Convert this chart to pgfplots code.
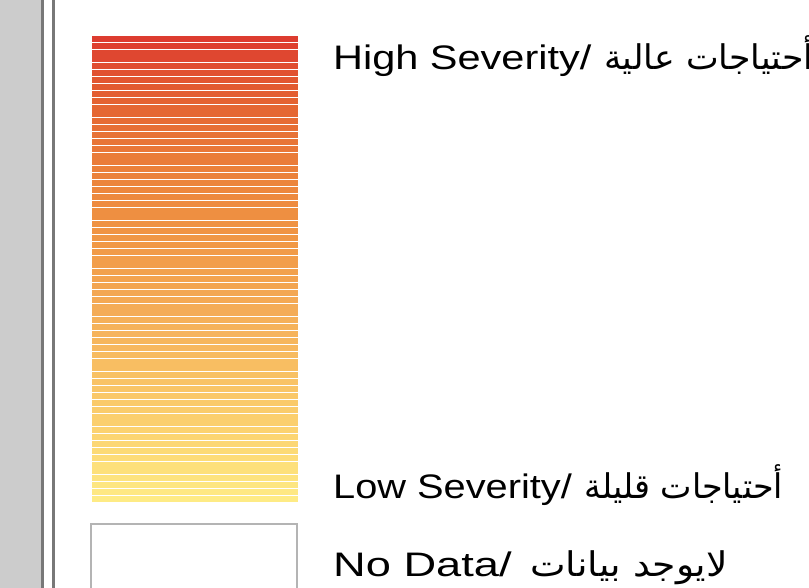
\documentclass[border=0pt]{standalone}
\usepackage{fontspec}
\setmainfont{Liberation Sans}
\newfontfamily\arabicfont[Script=Arabic]{DejaVu Sans}
\usepackage{graphicx}
\usepackage{pgfplots}
\pgfplotsset{compat=1.18}
\TeXXeTstate=1
\definecolor{panelgray}{RGB}{204,204,204}
\definecolor{linegray}{RGB}{120,120,120}
\definecolor{boxgray}{RGB}{180,180,180}
\begin{document}
\begin{tikzpicture}[x=1pt,y=1pt]
\path[use as bounding box] (0,0) rectangle (809,588);
\clip (0,0) rectangle (809,588);
\begin{axis}[at={(0,0)}, anchor=south west,
  width=809pt, height=588pt, scale only axis,
  xmin=0, xmax=809, ymin=0, ymax=588, y dir=reverse,
  hide axis, clip=false,
  colormap={sev}{rgb255=(221,58,47) rgb255=(228,100,50) rgb255=(235,128,58) rgb255=(240,150,68) rgb255=(244,170,85) rgb255=(248,191,99) rgb255=(252,212,113) rgb255=(254,236,134)},
  point meta min=36, point meta max=502]
% left panel decorations
\fill[panelgray] (axis cs:0,0) rectangle (axis cs:41,588);
\fill[linegray] (axis cs:41,0) rectangle (axis cs:44,588);
\fill[linegray] (axis cs:52,0) rectangle (axis cs:55,588);
% gradient stripes (one rectangle per stripe: x0 y0 / x1 y0 / x1 y1 / x0 y1, meta = stripe centre)
\addplot[patch, patch type=rectangle, shader=flat, point meta=explicit] table[meta=c] {
x y c
92 36.4 38.95
297.6 36.4 38.95
297.6 41.9 38.95
92 41.9 38.95
92 42.7 45.8
297.6 42.7 45.8
297.6 48.9 45.8
92 48.9 45.8
92 49.7 56.0
297.6 49.7 56.0
297.6 62.3 56.0
92 62.3 56.0
92 63.1 66.0
297.6 63.1 66.0
297.6 68.9 66.0
92 68.9 66.0
92 69.7 72.8
297.6 69.7 72.8
297.6 75.9 72.8
92 75.9 72.8
92 76.7 79.8
297.6 76.7 79.8
297.6 82.9 79.8
92 82.9 79.8
92 83.7 86.8
297.6 83.7 86.8
297.6 89.9 86.8
92 89.9 86.8
92 90.7 93.8
297.6 90.7 93.8
297.6 96.9 93.8
92 96.9 93.8
92 97.7 100.8
297.6 97.7 100.8
297.6 103.9 100.8
92 103.9 100.8
92 104.7 110.8
297.6 104.7 110.8
297.6 116.9 110.8
92 116.9 110.8
92 117.7 120.8
297.6 117.7 120.8
297.6 123.9 120.8
92 123.9 120.8
92 124.7 127.8
297.6 124.7 127.8
297.6 130.9 127.8
92 130.9 127.8
92 131.7 134.8
297.6 131.7 134.8
297.6 137.9 134.8
92 137.9 134.8
92 138.7 141.8
297.6 138.7 141.8
297.6 144.9 141.8
92 144.9 141.8
92 145.7 148.8
297.6 145.7 148.8
297.6 151.9 148.8
92 151.9 148.8
92 152.7 158.8
297.6 152.7 158.8
297.6 164.9 158.8
92 164.9 158.8
92 165.7 168.8
297.6 165.7 168.8
297.6 171.9 168.8
92 171.9 168.8
92 172.7 175.8
297.6 172.7 175.8
297.6 178.9 175.8
92 178.9 175.8
92 179.7 182.8
297.6 179.7 182.8
297.6 185.9 182.8
92 185.9 182.8
92 186.7 189.8
297.6 186.7 189.8
297.6 192.9 189.8
92 192.9 189.8
92 193.7 196.8
297.6 193.7 196.8
297.6 199.9 196.8
92 199.9 196.8
92 200.7 203.8
297.6 200.7 203.8
297.6 206.9 203.8
92 206.9 203.8
92 207.7 214.0
297.6 207.7 214.0
297.6 220.3 214.0
92 220.3 214.0
92 221.1 224.0
297.6 221.1 224.0
297.6 226.9 224.0
92 226.9 224.0
92 227.7 230.8
297.6 227.7 230.8
297.6 233.9 230.8
92 233.9 230.8
92 234.7 237.8
297.6 234.7 237.8
297.6 240.9 237.8
92 240.9 237.8
92 241.7 244.8
297.6 241.7 244.8
297.6 247.9 244.8
92 247.9 244.8
92 248.7 251.8
297.6 248.7 251.8
297.6 254.9 251.8
92 254.9 251.8
92 255.7 261.8
297.6 255.7 261.8
297.6 267.9 261.8
92 267.9 261.8
92 268.7 271.8
297.6 268.7 271.8
297.6 274.9 271.8
92 274.9 271.8
92 275.7 278.9
297.6 275.7 278.9
297.6 282.1 278.9
92 282.1 278.9
92 282.9 286.0
297.6 282.9 286.0
297.6 289.1 286.0
92 289.1 286.0
92 289.9 293.0
297.6 289.9 293.0
297.6 296.1 293.0
92 296.1 293.0
92 296.9 300.0
297.6 296.9 300.0
297.6 303.1 300.0
92 303.1 300.0
92 303.9 310.0
297.6 303.9 310.0
297.6 316.1 310.0
92 316.1 310.0
92 316.9 320.0
297.6 316.9 320.0
297.6 323.1 320.0
92 323.1 320.0
92 323.9 327.0
297.6 323.9 327.0
297.6 330.1 327.0
92 330.1 327.0
92 330.9 334.0
297.6 330.9 334.0
297.6 337.1 334.0
92 337.1 334.0
92 337.9 341.0
297.6 337.9 341.0
297.6 344.1 341.0
92 344.1 341.0
92 344.9 348.0
297.6 344.9 348.0
297.6 351.1 348.0
92 351.1 348.0
92 351.9 355.0
297.6 351.9 355.0
297.6 358.1 355.0
92 358.1 355.0
92 358.9 365.0
297.6 358.9 365.0
297.6 371.1 365.0
92 371.1 365.0
92 371.9 375.0
297.6 371.9 375.0
297.6 378.1 375.0
92 378.1 375.0
92 378.9 382.0
297.6 378.9 382.0
297.6 385.1 382.0
92 385.1 382.0
92 385.9 389.0
297.6 385.9 389.0
297.6 392.1 389.0
92 392.1 389.0
92 392.9 396.0
297.6 392.9 396.0
297.6 399.1 396.0
92 399.1 396.0
92 399.9 403.0
297.6 399.9 403.0
297.6 406.1 403.0
92 406.1 403.0
92 406.9 410.0
297.6 406.9 410.0
297.6 413.1 410.0
92 413.1 410.0
92 413.9 420.0
297.6 413.9 420.0
297.6 426.1 420.0
92 426.1 420.0
92 426.9 430.0
297.6 426.9 430.0
297.6 433.1 430.0
92 433.1 430.0
92 433.9 437.0
297.6 433.9 437.0
297.6 440.1 437.0
92 440.1 437.0
92 440.9 444.0
297.6 440.9 444.0
297.6 447.1 444.0
92 447.1 444.0
92 447.9 451.0
297.6 447.9 451.0
297.6 454.1 451.0
92 454.1 451.0
92 454.9 458.0
297.6 454.9 458.0
297.6 461.1 458.0
92 461.1 458.0
92 461.9 468.0
297.6 461.9 468.0
297.6 474.1 468.0
92 474.1 468.0
92 474.9 478.0
297.6 474.9 478.0
297.6 481.1 478.0
92 481.1 478.0
92 481.9 485.0
297.6 481.9 485.0
297.6 488.1 485.0
92 488.1 485.0
92 488.9 492.0
297.6 488.9 492.0
297.6 495.1 492.0
92 495.1 492.0
92 495.9 499.0
297.6 495.9 499.0
297.6 501.6 499.0
92 501.6 499.0
};
% white separators between the stripes (one pixel row each)
\addplot[white, line width=0.8pt, unbounded coords=jump, mark=none] coordinates {
(90,42.5) (300,42.5) (nan,nan)
(90,49.5) (300,49.5) (nan,nan)
(90,62.5) (300,62.5) (nan,nan)
(90,69.5) (300,69.5) (nan,nan)
(90,76.5) (300,76.5) (nan,nan)
(90,83.5) (300,83.5) (nan,nan)
(90,90.5) (300,90.5) (nan,nan)
(90,97.5) (300,97.5) (nan,nan)
(90,104.5) (300,104.5) (nan,nan)
(90,117.5) (300,117.5) (nan,nan)
(90,124.5) (300,124.5) (nan,nan)
(90,131.5) (300,131.5) (nan,nan)
(90,138.5) (300,138.5) (nan,nan)
(90,145.5) (300,145.5) (nan,nan)
(90,152.5) (300,152.5) (nan,nan)
(90,165.5) (300,165.5) (nan,nan)
(90,172.5) (300,172.5) (nan,nan)
(90,179.5) (300,179.5) (nan,nan)
(90,186.5) (300,186.5) (nan,nan)
(90,193.5) (300,193.5) (nan,nan)
(90,200.5) (300,200.5) (nan,nan)
(90,207.5) (300,207.5) (nan,nan)
(90,220.5) (300,220.5) (nan,nan)
(90,227.5) (300,227.5) (nan,nan)
(90,234.5) (300,234.5) (nan,nan)
(90,241.5) (300,241.5) (nan,nan)
(90,248.5) (300,248.5) (nan,nan)
(90,255.5) (300,255.5) (nan,nan)
(90,268.5) (300,268.5) (nan,nan)
(90,275.5) (300,275.5) (nan,nan)
(90,282.5) (300,282.5) (nan,nan)
(90,289.5) (300,289.5) (nan,nan)
(90,296.5) (300,296.5) (nan,nan)
(90,303.5) (300,303.5) (nan,nan)
(90,316.5) (300,316.5) (nan,nan)
(90,323.5) (300,323.5) (nan,nan)
(90,330.5) (300,330.5) (nan,nan)
(90,337.5) (300,337.5) (nan,nan)
(90,344.5) (300,344.5) (nan,nan)
(90,351.5) (300,351.5) (nan,nan)
(90,358.5) (300,358.5) (nan,nan)
(90,371.5) (300,371.5) (nan,nan)
(90,378.5) (300,378.5) (nan,nan)
(90,385.5) (300,385.5) (nan,nan)
(90,392.5) (300,392.5) (nan,nan)
(90,399.5) (300,399.5) (nan,nan)
(90,406.5) (300,406.5) (nan,nan)
(90,413.5) (300,413.5) (nan,nan)
(90,426.5) (300,426.5) (nan,nan)
(90,433.5) (300,433.5) (nan,nan)
(90,440.5) (300,440.5) (nan,nan)
(90,447.5) (300,447.5) (nan,nan)
(90,454.5) (300,454.5) (nan,nan)
(90,461.5) (300,461.5) (nan,nan)
(90,474.5) (300,474.5) (nan,nan)
(90,481.5) (300,481.5) (nan,nan)
(90,488.5) (300,488.5) (nan,nan)
(90,495.5) (300,495.5)
};
% no data box
\draw[boxgray, line width=2pt] (axis cs:91.2,610) -- (axis cs:91.2,524.2) -- (axis cs:296.8,524.2) -- (axis cs:296.8,610);
% labels
\node[anchor=base west, inner sep=0pt, font=\fontsize{34}{40}\selectfont] at (axis cs:333,70) {\scalebox{1.22}[1]{High Severity/}};
\node[anchor=base west, inner sep=0pt, font=\fontsize{34}{40}\selectfont] at (axis cs:604,70) {\scalebox{1.02}[1]{\arabicfont\beginR أحتياجات عالية\endR}};
\node[anchor=base west, inner sep=0pt, font=\fontsize{34}{40}\selectfont] at (axis cs:333,498.3) {\scalebox{1.17}[1]{Low Severity/}};
\node[anchor=base west, inner sep=0pt, font=\fontsize{34}{40}\selectfont] at (axis cs:584,498.3) {\scalebox{0.98}[1]{\arabicfont\beginR أحتياجات قليلة\endR}};
\node[anchor=base west, inner sep=0pt, font=\fontsize{34}{40}\selectfont] at (axis cs:333,576) {\scalebox{1.33}[1]{No Data/}};
\node[anchor=base west, inner sep=0pt, font=\fontsize{34}{40}\selectfont] at (axis cs:530,576) {\scalebox{1.11}[1]{\arabicfont\beginR لايوجد بيانات\endR}};
\end{axis}
\end{tikzpicture}
\end{document}
